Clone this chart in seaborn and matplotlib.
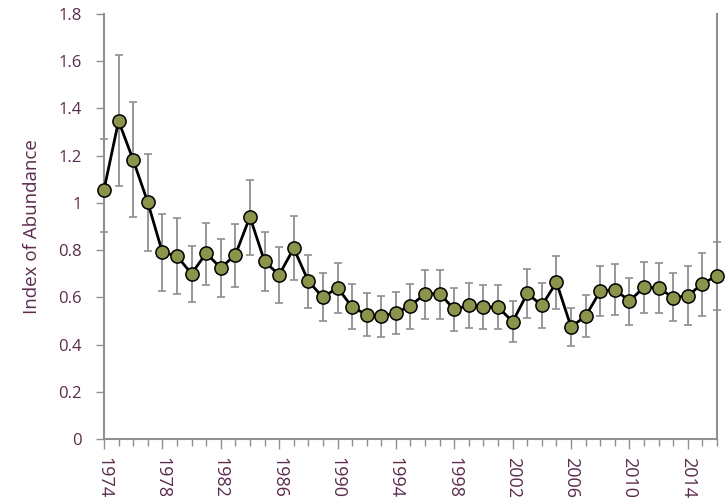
import matplotlib
matplotlib.use('Agg')
import matplotlib.pyplot as plt
import numpy as np
import pandas as pd
import seaborn as sb
from matplotlib.ticker import MultipleLocator

years = list(range(1974, 2017))
index_values = [1.055, 1.347, 1.182, 1.003, 0.791, 0.775, 0.700, 0.787, 0.725, 0.780,
                0.941, 0.753, 0.695, 0.808, 0.669, 0.600, 0.641, 0.559, 0.527, 0.520,
                0.535, 0.564, 0.616, 0.616, 0.549, 0.566, 0.559, 0.559, 0.497, 0.617,
                0.566, 0.664, 0.475, 0.521, 0.627, 0.633, 0.585, 0.643, 0.640, 0.599,
                0.607, 0.658, 0.692]
upper_ci = [1.270, 1.627, 1.428, 1.209, 0.953, 0.935, 0.819, 0.917, 0.847, 0.911,
            1.099, 0.879, 0.812, 0.944, 0.781, 0.702, 0.747, 0.655, 0.617, 0.607,
            0.624, 0.658, 0.716, 0.716, 0.641, 0.662, 0.654, 0.654, 0.583, 0.720,
            0.662, 0.777, 0.555, 0.610, 0.732, 0.740, 0.681, 0.750, 0.747, 0.702,
            0.734, 0.789, 0.833]
lower_ci = [0.877, 1.072, 0.940, 0.797, 0.627, 0.614, 0.582, 0.651, 0.603, 0.645,
            0.781, 0.626, 0.578, 0.674, 0.556, 0.500, 0.533, 0.465, 0.436, 0.431,
            0.444, 0.466, 0.508, 0.508, 0.458, 0.470, 0.465, 0.465, 0.412, 0.511,
            0.470, 0.549, 0.394, 0.434, 0.520, 0.525, 0.483, 0.534, 0.533, 0.499,
            0.483, 0.521, 0.548]
year_ticks = list(range(1974, 2017, 4))
y_ticks = [0, 0.2, 0.4, 0.6, 0.8, 1.0, 1.2, 1.4, 1.6, 1.8]
y_tick_labels = ['0', '0.2', '0.4', '0.6', '0.8', '1', '1.2', '1.4', '1.6', '1.8']

df = pd.DataFrame({'year': years, 'index': index_values,
                   'lo': lower_ci, 'hi': upper_ci})

sb.set_style('white')
plt.rcParams['font.family'] = ['Open Sans', 'DejaVu Sans']
text_color = '#5a2b4c'
axis_color = '#8c9196'

fig = plt.figure(figsize=(7.25, 4.99), dpi=100)
ax = fig.add_axes([0.1434, 0.120, 0.8456, 0.852])

# asymmetric error bars behind the line
yerr = np.vstack([df['index'] - df['lo'], df['hi'] - df['index']])
ax.errorbar(df['year'], df['index'], yerr=yerr, fmt='none', ecolor='#8f8f8f',
            elinewidth=1.3, capsize=3, capthick=1.2, zorder=1, clip_on=False)
sb.lineplot(data=df, x='year', y='index', color='black', linewidth=2,
            marker='o', markersize=9.5, markerfacecolor='#8c934a',
            markeredgecolor='black', markeredgewidth=1.1, ax=ax, zorder=3,
            clip_on=False)

ax.set_xlim(1974, 2016)
ax.set_ylim(0, 1.8)
ax.set_yticks(y_ticks)
ax.set_yticklabels(y_tick_labels)
ax.set_xticks(year_ticks)
ax.set_xticklabels([str(y) for y in year_ticks], rotation=270, va='top', ha='center')
ax.xaxis.set_minor_locator(MultipleLocator(1))

ax.set_xlabel('')
ax.set_ylabel('Index of Abundance', fontsize=13.5, color=text_color, labelpad=12)
ax.tick_params(axis='both', which='major', labelcolor=text_color,
               color=axis_color, direction='out', bottom=True, left=True)
ax.tick_params(axis='y', which='major', length=6, width=1, pad=10, labelsize=12)
ax.tick_params(axis='x', which='major', length=7, width=1, pad=6, labelsize=13)
ax.tick_params(axis='x', which='minor', length=5, width=1, color=axis_color, bottom=True)

for side in ['left', 'bottom', 'right']:
    ax.spines[side].set_color(axis_color)
    ax.spines[side].set_linewidth(1.5)
    ax.spines[side].set_visible(True)
ax.spines['top'].set_visible(False)
ax.grid(False)

fig.savefig('out.png', dpi=100)
